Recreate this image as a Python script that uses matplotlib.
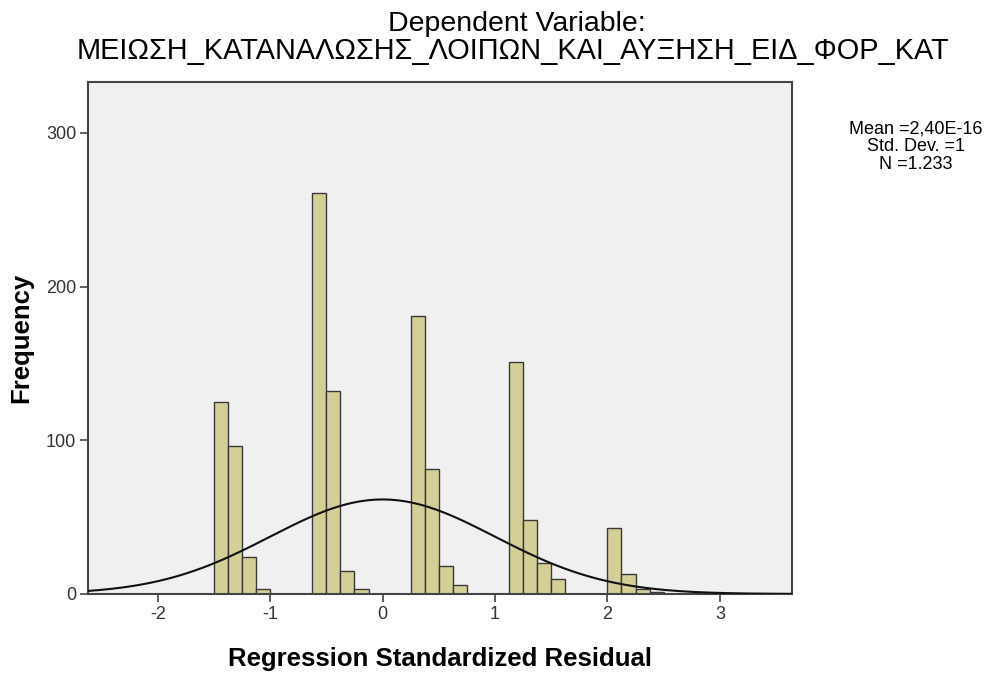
import numpy as np
import matplotlib
matplotlib.use("Agg")
import matplotlib.pyplot as plt

plt.rcParams["font.family"] = ["Liberation Sans", "DejaVu Sans"]
plt.rcParams["axes.unicode_minus"] = False

# histogram of residuals, bins of 0.125 starting at -1.5
bin_start = -1.5
bin_width = 0.125
counts = [125, 96, 24, 3, 0, 0, 0,
          261, 132, 15, 3, 0, 0, 0,
          181, 81, 18, 6, 0, 0, 0,
          151, 48, 20, 10, 0, 0, 0,
          43, 13, 3, 1]

stat_mean = 2.40e-16
stat_sd = 1.0
stat_n = 1233
stats_text = "Mean =2,40E-16\nStd. Dev. =1\nN =1.233"

x_ticks = [-2, -1, 0, 1, 2, 3]
y_ticks = [0, 100, 200, 300]

title_1 = "Dependent Variable:"
title_2 = "ΜΕΙΩΣΗ_ΚΑΤΑΝΑΛΩΣΗΣ_ΛΟΙΠΩΝ_ΚΑΙ_ΑΥΞΗΣΗ_ΕΙΔ_ΦΟΡ_ΚΑΤ"

fig = plt.figure(figsize=(9.91, 6.74), dpi=100)
ax = fig.add_axes([0.0888, 0.1187, 0.7102, 0.7596])
ax.set_facecolor("#f0f0f0")

lefts = bin_start + bin_width * np.arange(len(counts))
ax.bar(lefts, counts, width=bin_width, align="edge",
       color="#d4cf97", edgecolor="#3a3a3a", linewidth=1.0, zorder=2)

xs = np.linspace(-2.62, 3.64, 400)
pdf = np.exp(-0.5 * ((xs - stat_mean) / stat_sd) ** 2) / (stat_sd * np.sqrt(2 * np.pi))
ax.plot(xs, stat_n * bin_width * pdf, color="#111111", linewidth=1.5, zorder=3)

ax.set_xlim(-2.62, 3.64)
ax.set_ylim(0, 333)
ax.set_xticks(x_ticks)
ax.set_yticks(y_ticks)
ax.tick_params(direction="out", length=5.5, width=1.2, color="#444444",
               labelsize=13, labelcolor="#333333", pad=3)
for s in ax.spines.values():
    s.set_color("#444444")
    s.set_linewidth(1.5)

ax.set_xlabel("Regression Standardized Residual", fontsize=18.5, fontweight="bold")
ax.xaxis.set_label_coords(0.5, -0.1406)
ax.xaxis.label.set_verticalalignment("baseline")
ax.set_ylabel("Frequency", fontsize=18.5, fontweight="bold")
ax.yaxis.set_label_coords(-0.078, 0.5)

fig.text(0.522, 0.954, title_1, ha="center", va="baseline", fontsize=20.5)
fig.text(0.518, 0.913, title_2, ha="center", va="baseline", fontsize=20.8)
fig.text(0.924, 0.782, stats_text, ha="center", va="center", fontsize=13,
         linespacing=1.05)

fig.savefig("out.png", dpi=100)
